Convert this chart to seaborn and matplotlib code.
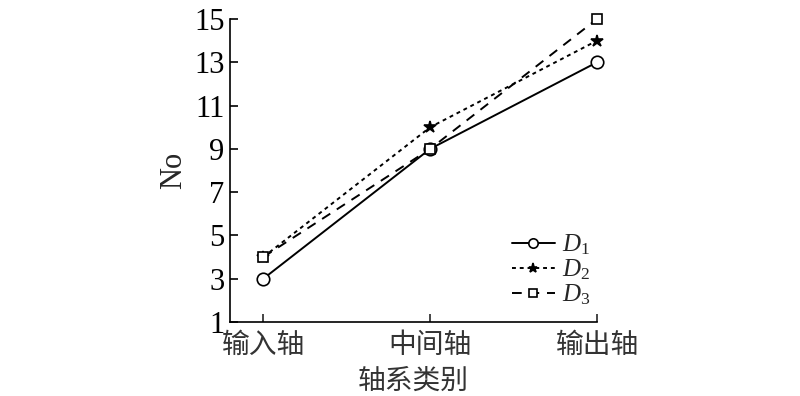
import matplotlib
matplotlib.use("Agg")
import matplotlib.pyplot as plt
import seaborn as sns
import pandas as pd

categories = ["输入轴", "中间轴", "输出轴"]
d1 = [3, 9, 13]
d2 = [4, 10, 14]
d3 = [4, 9, 15]
yticks = [1, 3, 5, 7, 9, 11, 13, 15]

sns.set_theme(style="ticks")
plt.rcParams['font.family'] = ['Liberation Serif', 'Noto Sans CJK SC']
plt.rcParams['mathtext.fontset'] = 'custom'
plt.rcParams['mathtext.it'] = 'Liberation Serif:italic'
plt.rcParams['mathtext.rm'] = 'Liberation Serif'

fig = plt.figure(figsize=(8, 3.96), dpi=100)
ax = fig.add_axes([0.2875, 0.187, 0.4588, 0.765])

pos = list(range(len(categories)))
series = [
    ("$D_1$", d1, "-", "o", "white"),
    ("$D_2$", d2, (0, (2, 2)), "*", "black"),
    ("$D_3$", d3, (0, (5, 4)), "s", "white"),
]
for label, vals, ls, mk, mfc in series:
    df = pd.DataFrame({"x": pos, "y": vals})
    sns.lineplot(data=df, x="x", y="y", ax=ax, color="black", linestyle=ls,
                 marker=mk, markersize=9 if mk != "s" else 7,
                 markerfacecolor=mfc, markeredgecolor="black",
                 markeredgewidth=1.2, linewidth=1.4, label=label, clip_on=False)

ax.set_xlim(-0.2, 2)
ax.set_ylim(1, 15)
ax.set_yticks(yticks)
ax.set_xticks(pos)
ax.set_xticklabels(categories, family=['Noto Sans CJK SC'], fontsize=20, color="#333333")
ax.tick_params(axis='y', direction='in', labelsize=22, length=6, width=1.2, colors='black', pad=4)
ax.tick_params(axis='x', direction='in', length=6, width=1.2, pad=6)
ax.set_xlabel("轴系类别", family=['Noto Sans CJK SC'], fontsize=20, color="#333333", labelpad=4)
ax.set_ylabel("No", fontsize=22, labelpad=4)
for s in ["top", "right"]:
    ax.spines[s].set_visible(False)
for s in ["left", "bottom"]:
    ax.spines[s].set_linewidth(1.2)
    ax.spines[s].set_color("black")

leg = ax.legend(loc="lower right", bbox_to_anchor=(1.03, -0.01), frameon=False,
                fontsize=18, handlelength=1.7, handletextpad=0.3, labelspacing=0.02,
                borderpad=0.2, markerscale=0.75)

fig.savefig("out.png", dpi=100)
